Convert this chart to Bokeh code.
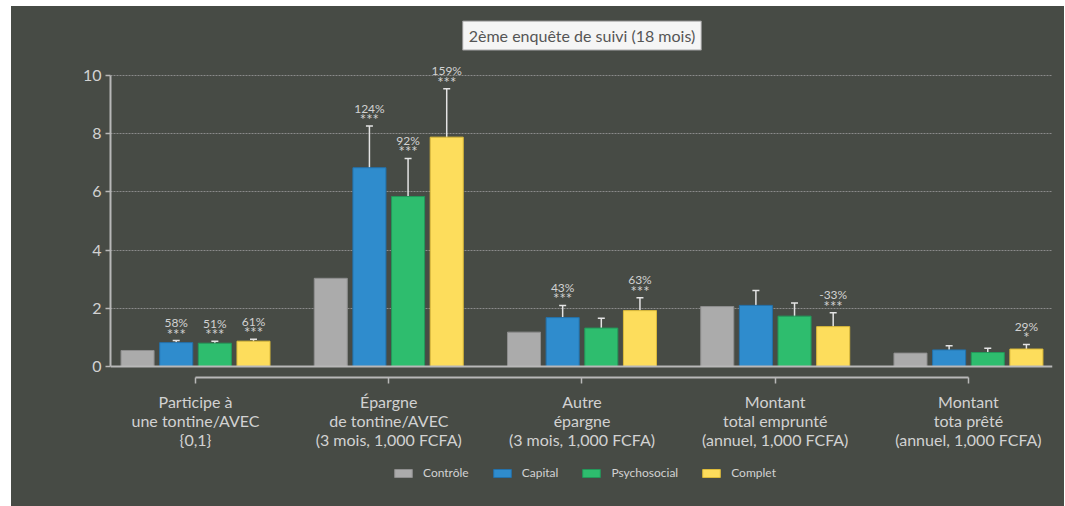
from bokeh.plotting import figure
from bokeh.layouts import column
from bokeh.models import (ColumnDataSource, Range1d, FixedTicker, LinearAxis, Span,
                          Whisker, TeeHead, Label, Legend, LegendItem)
from bokeh.core.properties import value
from bokeh.embed import file_html
from bokeh.resources import INLINE

# ---------------- data ----------------
categories = ["Participe à\nune tontine/AVEC\n{0,1}",
              "Épargne\nde tontine/AVEC\n(3 mois, 1,000 FCFA)",
              "Autre\népargne\n(3 mois, 1,000 FCFA)",
              "Montant\ntotal emprunté\n(annuel, 1,000 FCFA)",
              "Montant\ntota prêté\n(annuel, 1,000 FCFA)"]
series_names = ["Contrôle", "Capital", "Psychosocial", "Complet"]

controle = [0.55, 3.03, 1.18, 2.06, 0.46]
capital = [0.82, 6.83, 1.68, 2.10, 0.57]
psychosocial = [0.80, 5.84, 1.32, 1.73, 0.48]
complet = [0.87, 7.88, 1.92, 1.37, 0.60]

capital_low = [0.79, 5.41, 1.32, 1.59, 0.42]
capital_high = [0.89, 8.26, 2.10, 2.61, 0.71]
psychosocial_low = [0.74, 4.56, 0.96, 1.30, 0.33]
psychosocial_high = [0.87, 7.15, 1.66, 2.18, 0.63]
complet_low = [0.81, 6.22, 1.52, 0.95, 0.45]
complet_high = [0.94, 9.54, 2.36, 1.85, 0.76]

capital_pct = ["58%", "124%", "43%", "", ""]
capital_stars = ["***", "***", "***", "", ""]
psychosocial_pct = ["51%", "92%", "", "", ""]
psychosocial_stars = ["***", "***", "", "", ""]
complet_pct = ["61%", "159%", "63%", "-33%", "29%"]
complet_stars = ["***", "***", "***", "***", "*"]

y_ticks = [0, 2, 4, 6, 8, 10]
title_text = "2ème enquête de suivi (18 mois)"

# ---------------- style ----------------
BG = "#474b45"
FONT = "Lato"
TXT = "#d2d2d2"
AX = "#b8b8b8"
fills = ["#ababab", "#2f8ccd", "#2ebd6e", "#fddd5c"]
lines = ["#8e8e8e", "#2371ab", "#23985a", "#dcbb3a"]
offsets = [-0.3, -0.1, 0.1, 0.3]
bar_w = 0.171

p = figure(width=1053, height=449, output_backend="svg", toolbar_location=None,
           x_range=Range1d(-0.44, 4.435), y_range=Range1d(-0.378, 12.06),
           min_border_left=99, min_border_right=12, min_border_top=9, min_border_bottom=78,
           background_fill_alpha=0, border_fill_alpha=0)
p.styles = {"background-color": BG}
p.outline_line_color = None
p.xaxis.visible = False
p.yaxis.visible = False
p.xgrid.visible = False

# y axis
yax = LinearAxis(ticker=FixedTicker(ticks=y_ticks), bounds=(0, 10))
yax.axis_line_color = AX
yax.axis_line_width = 2
yax.major_tick_line_color = AX
yax.major_tick_line_width = 1.5
yax.major_tick_in = 0
yax.major_tick_out = 5
yax.minor_tick_line_color = None
yax.major_label_text_font = FONT
yax.major_label_text_font_size = "16px"
yax.major_label_text_color = TXT
yax.major_label_standoff = 4
p.add_layout(yax, "left")

# x axis (bracket)
xax = LinearAxis(ticker=FixedTicker(ticks=[0, 1, 2, 3, 4]), bounds=(0, 4))
xax.major_label_overrides = {i: c for i, c in enumerate(categories)}
xax.axis_line_color = AX
xax.axis_line_width = 2
xax.major_tick_line_color = AX
xax.major_tick_line_width = 1.5
xax.major_tick_in = 0
xax.major_tick_out = 6
xax.minor_tick_line_color = None
xax.major_label_text_font = FONT
xax.major_label_text_font_size = "16px"
xax.major_label_text_line_height = 1.0
xax.major_label_text_color = TXT
xax.major_label_standoff = 8
p.add_layout(xax, "below")

# grid
p.ygrid.ticker = FixedTicker(ticks=[2, 4, 6, 8, 10])
p.ygrid.grid_line_color = "#8a8a8a"
p.ygrid.grid_line_dash = "2 1"
p.ygrid.grid_line_width = 1
p.ygrid.bounds = (0, 10)

# baseline
p.add_layout(Span(location=0, dimension="width", line_color=AX, line_width=2))

xs = [0, 1, 2, 3, 4]
vals = [controle, capital, psychosocial, complet]
sources = []
for k in range(4):
    src = ColumnDataSource(dict(x=[x + offsets[k] for x in xs], top=vals[k]))
    sources.append(src)
    p.vbar(x="x", top="top", width=bar_w, bottom=0, source=src,
           fill_color=fills[k], line_color=lines[k], line_width=1)

errs = [(capital_low, capital_high, capital_pct, capital_stars),
        (psychosocial_low, psychosocial_high, psychosocial_pct, psychosocial_stars),
        (complet_low, complet_high, complet_pct, complet_stars)]
for k, (lo, hi, pct, stars) in enumerate(errs, start=1):
    src = ColumnDataSource(dict(x=[x + offsets[k] for x in xs], lo=lo, hi=hi,
                                pct=pct, stars=stars))
    w = Whisker(base="x", lower="lo", upper="hi", source=src,
                line_color="#e4e4e4", line_width=1.5,
                upper_head=TeeHead(size=7, line_color="#e4e4e4", line_width=1.5),
                lower_head=TeeHead(size=7, line_color="#e4e4e4", line_width=1.5))
    p.add_layout(w)
    p.text(x="x", y="hi", text="pct", source=src, text_align="center",
           text_baseline="middle", y_offset=-18, text_font=value(FONT),
           text_font_size="12px", text_color=TXT)
    p.text(x="x", y="hi", text="stars", source=src, text_align="center",
           text_baseline="middle", y_offset=-7, text_font=value(FONT),
           text_font_size="15px", text_color=TXT)

# title box
p.add_layout(Label(x=2.0, y=11.37, text=title_text, text_align="center",
                   text_baseline="middle", text_font=FONT, text_font_size="16px",
                   text_color="#555555", background_fill_color="#f5f5f5",
                   border_line_color="#9a9a9a", border_line_width=1,
                   padding=dict(x=6, y=5)))

# legend strip (legend renderers hidden; only their swatches are shown)
lf = figure(width=1053, height=51, output_backend="svg", toolbar_location=None,
            x_range=Range1d(-0.44, 4.435), y_range=Range1d(-20, -19),
            min_border_left=0, min_border_right=0, min_border_top=0, min_border_bottom=0,
            background_fill_alpha=0, border_fill_alpha=0)
lf.styles = {"background-color": BG}
lf.outline_line_color = None
lf.xaxis.visible = False
lf.yaxis.visible = False
lf.grid.visible = False
leg_renderers = []
for k in range(4):
    r = lf.vbar(x="x", top="top", width=bar_w, bottom=0, source=sources[k],
                fill_color=fills[k], line_color=lines[k], line_width=1)
    r.visible = False
    leg_renderers.append(r)
items = [LegendItem(label=series_names[k], renderers=[leg_renderers[k]]) for k in range(4)]
leg = Legend(items=items, orientation="horizontal", location=(282, 26),
             background_fill_alpha=0, border_line_color=None, padding=0, margin=0,
             spacing=22, label_standoff=9, glyph_width=22, glyph_height=10,
             label_height=10, label_text_font=FONT, label_text_font_size="12px",
             label_text_color=TXT, inactive_fill_alpha=0)
lf.add_layout(leg, "center")

layout = column(p, lf, spacing=0, margin=(6, 0, 0, 11))
layout.styles = {"background-color": BG}
open("out.html", "w").write(file_html(layout, INLINE))
